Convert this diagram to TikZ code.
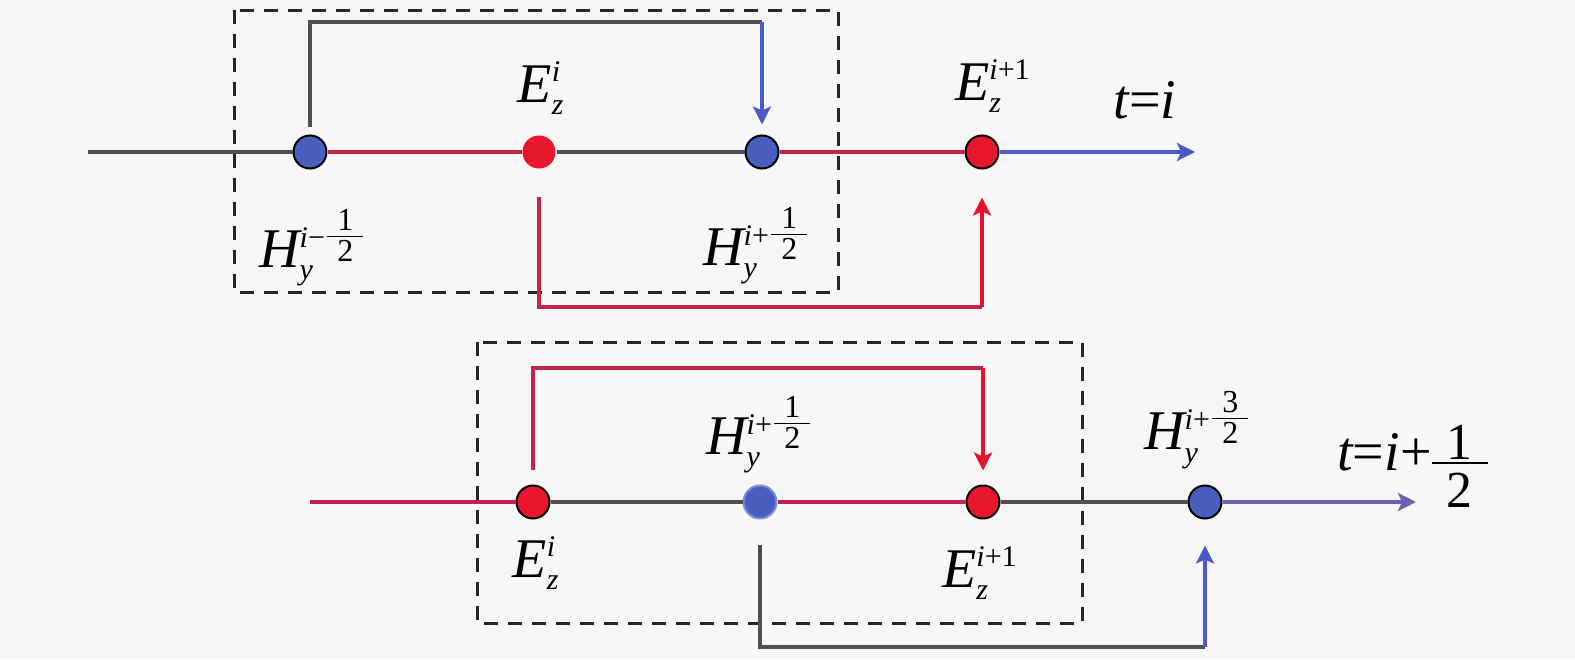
\documentclass[tikz,border=0pt]{standalone}
\usepackage{fontspec}
\setmainfont{Liberation Serif}
\usetikzlibrary{arrows.meta}
\definecolor{bg}{RGB}{247,247,247}
\definecolor{lred}{RGB}{195,35,75}
\definecolor{ared}{RGB}{230,20,40}
\definecolor{nred}{RGB}{232,22,45}
\definecolor{nblue}{RGB}{72,95,190}
\definecolor{ablue}{RGB}{75,90,200}
\definecolor{apurple}{RGB}{105,100,180}
\definecolor{lgray}{RGB}{80,80,80}
\newcommand\sv[1]{\mbox{\fontsize{15}{15}\selectfont\itshape #1}}
\newcommand\sr[1]{\mbox{\fontsize{15}{15}\selectfont #1}}
\newcommand\fr[1]{\hbox to 18pt{\hss\fontsize{16}{16}\selectfont #1\hss}}
\newcommand\mv[1]{\mbox{\itshape #1}}
\newcommand\bd[1]{\hbox to 28pt{\hss\fontsize{26}{26}\selectfont #1\hss}}
\begin{document}
\begin{tikzpicture}[x=0.5pt,y=-0.5pt,
  font=\fontsize{28}{32}\selectfont,
  dot/.style={circle,minimum size=16.5pt,inner sep=0pt,draw=black,line width=1pt},
  rdot/.style={dot,fill=nred},
  bdot/.style={dot,fill=nblue},
  ln/.style={line width=1.6pt},
  gl/.style={ln,draw=lgray},
  rl/.style={ln,draw=lred},
  arr/.style={-{Stealth[length=9pt,width=9pt,inset=2pt]}},
  dbox/.style={draw=black!85,line width=1.5pt,dash pattern=on 7pt off 5pt},
  lbl/.style={inner sep=0pt}]
\fill[bg] (0,0) rectangle (1575,659);
\useasboundingbox (0,0) rectangle (1575,659);
\draw[dbox] (234,10) rectangle (838,292);
\draw[dbox] (477,342) rectangle (1082,623);
% top row
\coordinate (s1) at (88,152);
\node[bdot] (h1) at (310,152) {};
\node[rdot,draw=none] (e1) at (539,152) {};
\node[bdot] (h2) at (762,152) {};
\node[rdot] (e2) at (982,152) {};
\coordinate (t1) at (1195,152);
\draw[gl] (s1) -- (h1);
\draw[rl] (h1) -- (e1);
\draw[gl] (e1) -- (h2);
\draw[rl] (h2) -- (e2);
\draw[ln,draw=ablue,arr] (e2) -- (t1);
\coordinate (c1) at (762,22);
\draw[gl] (h1) ++(0,-25) |- (c1);
\draw[ln,draw=ablue,arr,shorten >=5pt] (c1) -- (h2);
\coordinate (c2) at (982,307);
\draw[rl] (e1) ++(0,45) |- (c2);
\draw[ln,draw=ared,arr,shorten >=14pt] (c2) -- (e2);
\node[lbl] (le1) at (541,88) {$\mv{E}^{\sv{i}}_{\sv{z}}$};
\node[lbl] (le2) at (993,86) {$\mv{E}^{\sv{i}\sr{+1}}_{\sv{z}}$};
\node[lbl] (lt1) at (1145,100) {{\itshape t}={\itshape i}};
\node[lbl] (lh1) at (313,248) {$\mv{H}^{\sv{i}\sr{−}\frac{\fr{1}}{\fr{2}}}_{\sv{y}}$};
\node[lbl] (lh2) at (757,246) {$\mv{H}^{\sv{i}\sr{+}\frac{\fr{1}}{\fr{2}}}_{\sv{y}}$};
% bottom row
\coordinate (s2) at (310,502);
\node[rdot] (e3) at (533,502) {};
\node[bdot,draw=nblue!70!white] (h3) at (760,502) {};
\node[rdot] (e4) at (983,502) {};
\node[bdot] (h4) at (1205,502) {};
\coordinate (t2) at (1416,502);
\draw[rl] (s2) -- (e3);
\draw[gl] (e3) -- (h3);
\draw[rl] (h3) -- (e4);
\draw[gl] (e4) -- (h4);
\draw[ln,draw=apurple,arr] (h4) -- (t2);
\coordinate (c3) at (983,368);
\draw[rl] (e3) ++(0,-32) |- (c3);
\draw[ln,draw=ared,arr,shorten >=7pt] (c3) -- (e4);
\coordinate (c4) at (1205,647);
\draw[gl] (h3) ++(0,43) |- (c4);
\draw[ln,draw=ablue,arr,shorten >=13pt] (c4) -- (h4);
\node[lbl] (le3) at (536,563) {$\mv{E}^{\sv{i}}_{\sv{z}}$};
\node[lbl] (le4) at (980,573) {$\mv{E}^{\sv{i}\sr{+1}}_{\sv{z}}$};
\node[lbl] (lh3) at (760,435) {$\mv{H}^{\sv{i}\sr{+}\frac{\fr{1}}{\fr{2}}}_{\sv{y}}$};
\node[lbl] (lh4) at (1198,430) {$\mv{H}^{\sv{i}\sr{+}\frac{\fr{3}}{\fr{2}}}_{\sv{y}}$};
\node[lbl,anchor=base west] (lt2) at (1337,470) {$\mv{t}\mbox{=}\mv{i}\mbox{+}\vcenter{\kern9pt\bd{1}\kern1pt\hrule height 1pt\kern5pt\bd{2}}$};
\end{tikzpicture}
\end{document}
